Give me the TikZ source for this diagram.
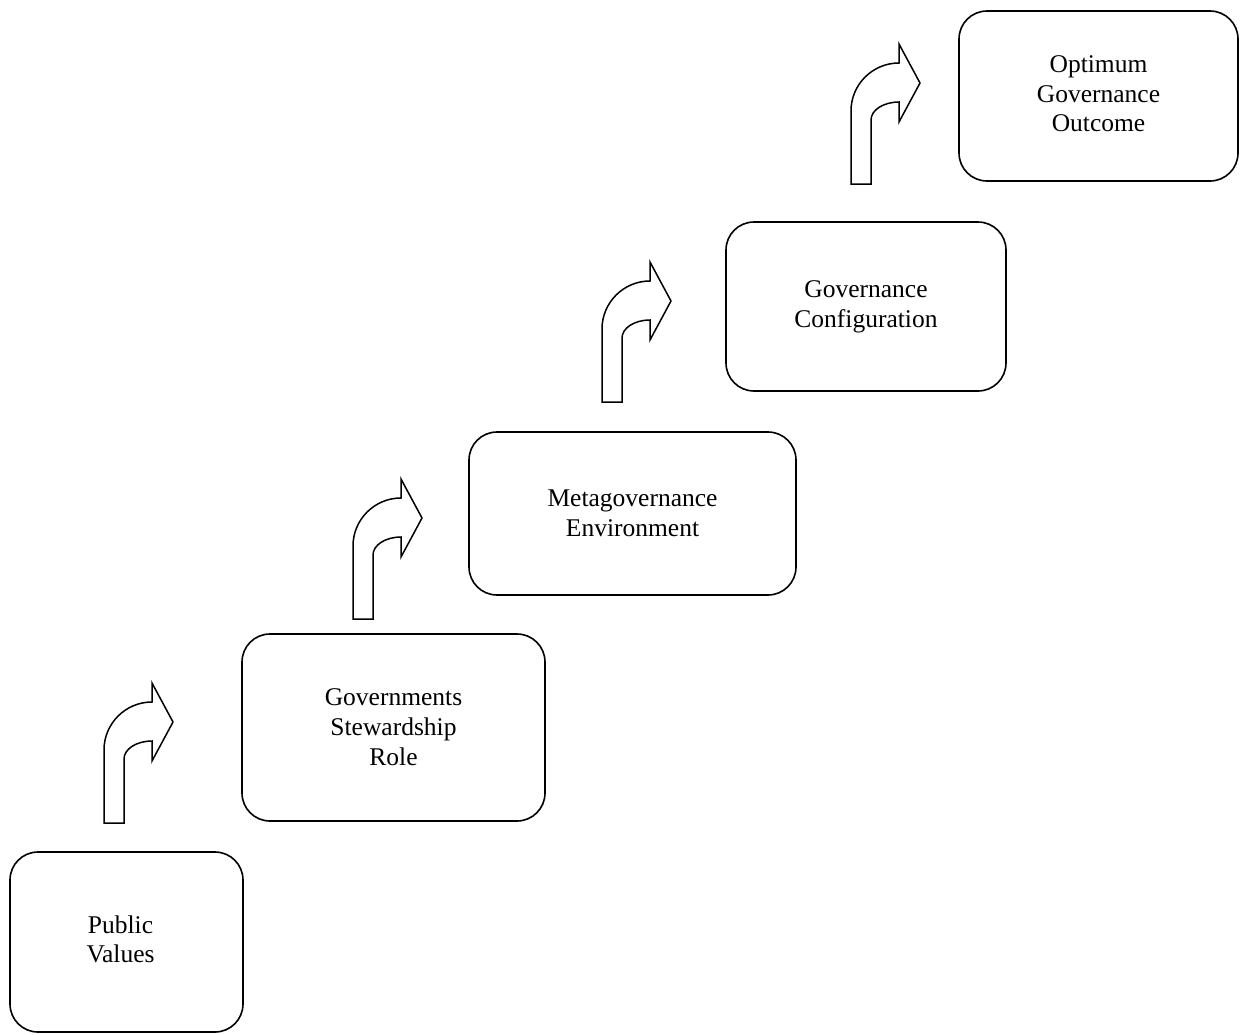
\documentclass[tikz,border=0pt]{standalone}
\usepackage{fontspec}
\setmainfont{Liberation Serif}
\begin{document}
\begin{tikzpicture}[x=1pt,y=-1pt,
  stagebox/.style={draw=black, line width=1.6pt, rounded corners=28pt, align=center,
    font=\fontsize{25.5}{30}\selectfont, inner sep=0pt},
  bentarrow/.pic={
    \draw[line width=1.5pt, line join=miter, fill=white]
      (0,0) -- (0,-73)
      .. controls (0,-99.5) and (21.5,-121) .. (48,-121)
      -- (48,-140) -- (69,-101) -- (48,-62) -- (48,-82)
      .. controls (32.5,-82) and (20,-74) .. (20,-64)
      -- (20,0) -- cycle;
  }]
\useasboundingbox (0,0) rectangle (1240,1034);

\node[stagebox, minimum width=233pt, minimum height=180pt] (pv) at (126.5,942)
  {\hspace*{-12pt}\begin{tabular}{@{}c@{}}Public\\[-0.5pt]Values\end{tabular}};
\node[stagebox, minimum width=303pt, minimum height=187pt] (gsr) at (393.5,727.5)
  {Governments\\Stewardship\\Role};
\node[stagebox, minimum width=327pt, minimum height=163pt] (me) at (632.5,513.5)
  {Metagovernance\\Environment};
\node[stagebox, minimum width=280pt, minimum height=169pt] (gc) at (866,306.5)
  {Governance\\Configuration};
\node[stagebox, minimum width=279pt, minimum height=170pt] (ogo) at (1098.5,96)
  {\raisebox{5pt}{\begin{tabular}{@{}c@{}}Optimum\\[-0.5pt]Governance\\[-0.5pt]Outcome\end{tabular}}};

\pic (a1) at (104,823) {bentarrow};
\pic (a2) at (353,619) {bentarrow};
\pic (a3) at (602,402) {bentarrow};
\pic (a4) at (851,184) {bentarrow};
\end{tikzpicture}
\end{document}
